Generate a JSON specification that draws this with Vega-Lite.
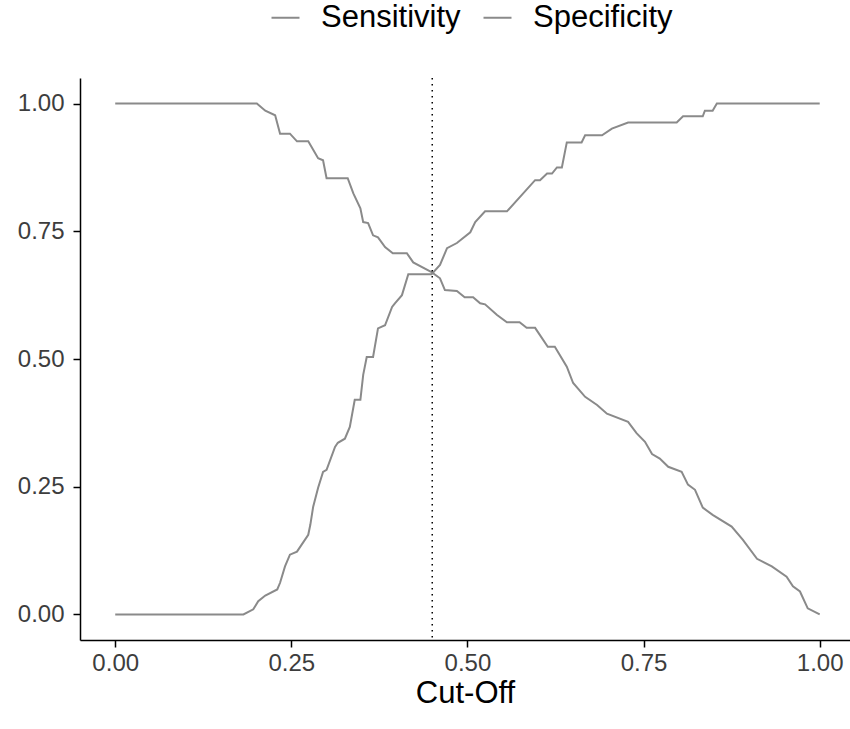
{
  "$schema": "https://vega.github.io/schema/vega-lite/v6.json",
  "width": 770,
  "height": 562,
  "autosize": {"type": "none"},
  "padding": {"left": 80, "top": 78, "right": 0, "bottom": 89},
  "background": "white",
  "config": {
    "view": {"stroke": null},
    "font": "Liberation Sans",
    "axis": {"grid": false, "domainColor": "black", "domainWidth": 1.5, "tickColor": "black", "tickWidth": 1.5, "tickSize": 7, "labelColor": "#3d3d3d", "labelFont": "Liberation Sans", "titleFont": "Liberation Sans", "titleFontWeight": "normal", "titleColor": "black"}
  },
  "layer": [
    {
      "data": {"values": [
        {"cutoff": 0.0, "value": 1.0, "measure": "Sensitivity"},
        {"cutoff": 0.201, "value": 1.0, "measure": "Sensitivity"},
        {"cutoff": 0.213, "value": 0.986, "measure": "Sensitivity"},
        {"cutoff": 0.227, "value": 0.977, "measure": "Sensitivity"},
        {"cutoff": 0.234, "value": 0.941, "measure": "Sensitivity"},
        {"cutoff": 0.248, "value": 0.941, "measure": "Sensitivity"},
        {"cutoff": 0.258, "value": 0.926, "measure": "Sensitivity"},
        {"cutoff": 0.274, "value": 0.926, "measure": "Sensitivity"},
        {"cutoff": 0.288, "value": 0.893, "measure": "Sensitivity"},
        {"cutoff": 0.295, "value": 0.889, "measure": "Sensitivity"},
        {"cutoff": 0.300, "value": 0.854, "measure": "Sensitivity"},
        {"cutoff": 0.330, "value": 0.854, "measure": "Sensitivity"},
        {"cutoff": 0.338, "value": 0.824, "measure": "Sensitivity"},
        {"cutoff": 0.348, "value": 0.795, "measure": "Sensitivity"},
        {"cutoff": 0.352, "value": 0.768, "measure": "Sensitivity"},
        {"cutoff": 0.359, "value": 0.766, "measure": "Sensitivity"},
        {"cutoff": 0.366, "value": 0.742, "measure": "Sensitivity"},
        {"cutoff": 0.373, "value": 0.738, "measure": "Sensitivity"},
        {"cutoff": 0.383, "value": 0.719, "measure": "Sensitivity"},
        {"cutoff": 0.394, "value": 0.707, "measure": "Sensitivity"},
        {"cutoff": 0.414, "value": 0.707, "measure": "Sensitivity"},
        {"cutoff": 0.423, "value": 0.689, "measure": "Sensitivity"},
        {"cutoff": 0.449, "value": 0.670, "measure": "Sensitivity"},
        {"cutoff": 0.461, "value": 0.658, "measure": "Sensitivity"},
        {"cutoff": 0.468, "value": 0.635, "measure": "Sensitivity"},
        {"cutoff": 0.485, "value": 0.633, "measure": "Sensitivity"},
        {"cutoff": 0.496, "value": 0.621, "measure": "Sensitivity"},
        {"cutoff": 0.508, "value": 0.621, "measure": "Sensitivity"},
        {"cutoff": 0.518, "value": 0.609, "measure": "Sensitivity"},
        {"cutoff": 0.525, "value": 0.607, "measure": "Sensitivity"},
        {"cutoff": 0.542, "value": 0.586, "measure": "Sensitivity"},
        {"cutoff": 0.556, "value": 0.572, "measure": "Sensitivity"},
        {"cutoff": 0.574, "value": 0.572, "measure": "Sensitivity"},
        {"cutoff": 0.584, "value": 0.561, "measure": "Sensitivity"},
        {"cutoff": 0.596, "value": 0.561, "measure": "Sensitivity"},
        {"cutoff": 0.614, "value": 0.524, "measure": "Sensitivity"},
        {"cutoff": 0.624, "value": 0.524, "measure": "Sensitivity"},
        {"cutoff": 0.641, "value": 0.485, "measure": "Sensitivity"},
        {"cutoff": 0.650, "value": 0.453, "measure": "Sensitivity"},
        {"cutoff": 0.667, "value": 0.426, "measure": "Sensitivity"},
        {"cutoff": 0.684, "value": 0.410, "measure": "Sensitivity"},
        {"cutoff": 0.698, "value": 0.393, "measure": "Sensitivity"},
        {"cutoff": 0.728, "value": 0.377, "measure": "Sensitivity"},
        {"cutoff": 0.740, "value": 0.355, "measure": "Sensitivity"},
        {"cutoff": 0.752, "value": 0.338, "measure": "Sensitivity"},
        {"cutoff": 0.762, "value": 0.314, "measure": "Sensitivity"},
        {"cutoff": 0.773, "value": 0.305, "measure": "Sensitivity"},
        {"cutoff": 0.785, "value": 0.289, "measure": "Sensitivity"},
        {"cutoff": 0.804, "value": 0.279, "measure": "Sensitivity"},
        {"cutoff": 0.813, "value": 0.254, "measure": "Sensitivity"},
        {"cutoff": 0.823, "value": 0.244, "measure": "Sensitivity"},
        {"cutoff": 0.834, "value": 0.209, "measure": "Sensitivity"},
        {"cutoff": 0.848, "value": 0.195, "measure": "Sensitivity"},
        {"cutoff": 0.875, "value": 0.172, "measure": "Sensitivity"},
        {"cutoff": 0.891, "value": 0.146, "measure": "Sensitivity"},
        {"cutoff": 0.911, "value": 0.109, "measure": "Sensitivity"},
        {"cutoff": 0.932, "value": 0.094, "measure": "Sensitivity"},
        {"cutoff": 0.953, "value": 0.074, "measure": "Sensitivity"},
        {"cutoff": 0.962, "value": 0.055, "measure": "Sensitivity"},
        {"cutoff": 0.972, "value": 0.045, "measure": "Sensitivity"},
        {"cutoff": 0.983, "value": 0.012, "measure": "Sensitivity"},
        {"cutoff": 1.0, "value": 0.0, "measure": "Sensitivity"},
        {"cutoff": 0.0, "value": 0.0, "measure": "Specificity"},
        {"cutoff": 0.182, "value": 0.0, "measure": "Specificity"},
        {"cutoff": 0.196, "value": 0.010, "measure": "Specificity"},
        {"cutoff": 0.203, "value": 0.026, "measure": "Specificity"},
        {"cutoff": 0.213, "value": 0.037, "measure": "Specificity"},
        {"cutoff": 0.230, "value": 0.049, "measure": "Specificity"},
        {"cutoff": 0.234, "value": 0.062, "measure": "Specificity"},
        {"cutoff": 0.241, "value": 0.094, "measure": "Specificity"},
        {"cutoff": 0.248, "value": 0.117, "measure": "Specificity"},
        {"cutoff": 0.258, "value": 0.123, "measure": "Specificity"},
        {"cutoff": 0.274, "value": 0.156, "measure": "Specificity"},
        {"cutoff": 0.277, "value": 0.176, "measure": "Specificity"},
        {"cutoff": 0.281, "value": 0.211, "measure": "Specificity"},
        {"cutoff": 0.288, "value": 0.248, "measure": "Specificity"},
        {"cutoff": 0.295, "value": 0.279, "measure": "Specificity"},
        {"cutoff": 0.300, "value": 0.283, "measure": "Specificity"},
        {"cutoff": 0.312, "value": 0.328, "measure": "Specificity"},
        {"cutoff": 0.316, "value": 0.336, "measure": "Specificity"},
        {"cutoff": 0.326, "value": 0.344, "measure": "Specificity"},
        {"cutoff": 0.333, "value": 0.367, "measure": "Specificity"},
        {"cutoff": 0.340, "value": 0.420, "measure": "Specificity"},
        {"cutoff": 0.348, "value": 0.420, "measure": "Specificity"},
        {"cutoff": 0.352, "value": 0.469, "measure": "Specificity"},
        {"cutoff": 0.357, "value": 0.504, "measure": "Specificity"},
        {"cutoff": 0.366, "value": 0.504, "measure": "Specificity"},
        {"cutoff": 0.373, "value": 0.560, "measure": "Specificity"},
        {"cutoff": 0.383, "value": 0.566, "measure": "Specificity"},
        {"cutoff": 0.393, "value": 0.602, "measure": "Specificity"},
        {"cutoff": 0.397, "value": 0.609, "measure": "Specificity"},
        {"cutoff": 0.407, "value": 0.625, "measure": "Specificity"},
        {"cutoff": 0.416, "value": 0.666, "measure": "Specificity"},
        {"cutoff": 0.449, "value": 0.666, "measure": "Specificity"},
        {"cutoff": 0.461, "value": 0.684, "measure": "Specificity"},
        {"cutoff": 0.471, "value": 0.717, "measure": "Specificity"},
        {"cutoff": 0.485, "value": 0.727, "measure": "Specificity"},
        {"cutoff": 0.504, "value": 0.748, "measure": "Specificity"},
        {"cutoff": 0.511, "value": 0.768, "measure": "Specificity"},
        {"cutoff": 0.525, "value": 0.789, "measure": "Specificity"},
        {"cutoff": 0.556, "value": 0.789, "measure": "Specificity"},
        {"cutoff": 0.596, "value": 0.850, "measure": "Specificity"},
        {"cutoff": 0.603, "value": 0.850, "measure": "Specificity"},
        {"cutoff": 0.613, "value": 0.863, "measure": "Specificity"},
        {"cutoff": 0.620, "value": 0.863, "measure": "Specificity"},
        {"cutoff": 0.627, "value": 0.875, "measure": "Specificity"},
        {"cutoff": 0.634, "value": 0.875, "measure": "Specificity"},
        {"cutoff": 0.641, "value": 0.924, "measure": "Specificity"},
        {"cutoff": 0.662, "value": 0.924, "measure": "Specificity"},
        {"cutoff": 0.667, "value": 0.938, "measure": "Specificity"},
        {"cutoff": 0.691, "value": 0.938, "measure": "Specificity"},
        {"cutoff": 0.705, "value": 0.951, "measure": "Specificity"},
        {"cutoff": 0.728, "value": 0.963, "measure": "Specificity"},
        {"cutoff": 0.797, "value": 0.963, "measure": "Specificity"},
        {"cutoff": 0.806, "value": 0.975, "measure": "Specificity"},
        {"cutoff": 0.834, "value": 0.975, "measure": "Specificity"},
        {"cutoff": 0.837, "value": 0.986, "measure": "Specificity"},
        {"cutoff": 0.848, "value": 0.986, "measure": "Specificity"},
        {"cutoff": 0.854, "value": 1.0, "measure": "Specificity"},
        {"cutoff": 1.0, "value": 1.0, "measure": "Specificity"}
      ]},
      "mark": {"type": "line", "strokeWidth": 2, "clip": true},
      "encoding": {
        "x": {"field": "cutoff", "type": "quantitative", "title": "Cut-Off",
          "scale": {"domain": [-0.05, 1.043], "nice": false, "zero": false},
          "axis": {"values": [0, 0.25, 0.5, 0.75, 1], "format": ".2f", "labelFontSize": 24, "labelPadding": 4, "titleFontSize": 31, "titlePadding": 3}},
        "y": {"field": "value", "type": "quantitative", "title": null,
          "scale": {"domain": [-0.05, 1.05], "nice": false, "zero": false},
          "axis": {"values": [0, 0.25, 0.5, 0.75, 1], "format": ".2f", "labelFontSize": 24, "labelPadding": 9}},
        "color": {"field": "measure", "type": "nominal",
          "scale": {"domain": ["Sensitivity", "Specificity"], "range": ["#8a8a8a", "#8a8a8a"]},
          "legend": {"title": null, "orient": "none", "direction": "horizontal", "legendX": 190, "legendY": -76,
            "symbolType": "stroke", "symbolSize": 784, "symbolStrokeWidth": 2, "labelFontSize": 31, "labelColor": "black", "labelOffset": 20, "columnPadding": 18, "labelFont": "Liberation Sans"}}
      }
    },
    {
      "data": {"values": [{"cutoff": 0.45}]},
      "mark": {"type": "rule", "color": "black", "strokeWidth": 1.5, "strokeDash": [1.5, 4.5]},
      "encoding": {"x": {"field": "cutoff", "type": "quantitative"}}
    }
  ]
}
